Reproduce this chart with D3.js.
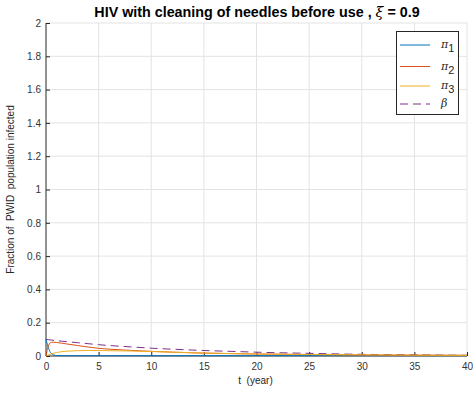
<!DOCTYPE html>
<html>
<head>
<meta charset="utf-8">
<script src="https://cdn.jsdelivr.net/npm/d3@7"></script>
<style>
  body { margin: 0; background: #fff; }
  svg { display: block; font-family: "Liberation Sans", Arial, Helvetica, sans-serif; }
  .pre { white-space: pre; }
</style>
</head>
<body>
<svg id="chart" width="473" height="394"></svg>
<script>
// Time grid (years)
const tYears = [0, 0.25, 0.5, 0.75, 1, 1.5, 2, 3, 4, 5, 6, 8, 10, 12, 15, 18, 20, 25, 30, 35, 40];

// Fractions of the PWID population infected
const pi1  = [0.100, 0.045, 0.015, 0.006, 0.003, 0.002, 0.002, 0.002, 0.002, 0.002, 0.002, 0.002, 0.002, 0.002, 0.002, 0.002, 0.002, 0.002, 0.002, 0.002, 0.002];
const pi2  = [0.000, 0.065, 0.082, 0.083, 0.081, 0.077, 0.072, 0.063, 0.054, 0.046, 0.041, 0.034, 0.028, 0.023, 0.017, 0.014, 0.012, 0.009, 0.006, 0.005, 0.004];
const pi3  = [0.000, 0.006, 0.012, 0.017, 0.021, 0.026, 0.029, 0.032, 0.033, 0.033, 0.032, 0.030, 0.027, 0.023, 0.018, 0.014, 0.012, 0.009, 0.007, 0.005, 0.004];
const beta = [0.100, 0.098, 0.096, 0.094, 0.092, 0.089, 0.086, 0.080, 0.074, 0.068, 0.063, 0.055, 0.047, 0.041, 0.033, 0.027, 0.023, 0.016, 0.010, 0.007, 0.004];

const xTicks = [0, 5, 10, 15, 20, 25, 30, 35, 40];
const yTicks = [0, 0.2, 0.4, 0.6, 0.8, 1, 1.2, 1.4, 1.6, 1.8, 2];

const series = [
  { name: "1", values: pi1,  color: "#0072BD", dash: null },
  { name: "2", values: pi2,  color: "#D95319", dash: null },
  { name: "3", values: pi3,  color: "#EDB120", dash: null },
  { name: "beta", values: beta, color: "#7E2F8E", dash: "8,5" }
];

const svg = d3.select("#chart");
const plotL = 46, plotR = 467, plotT = 23, plotB = 356;

const x = d3.scaleLinear().domain([0, 40]).range([plotL, plotR]);
const y = d3.scaleLinear().domain([0, 2]).range([plotB, plotT]);

// grid
const grid = svg.append("g");
grid.selectAll("line.gx").data(xTicks.slice(1)).join("line")
  .attr("x1", d => x(d)).attr("x2", d => x(d))
  .attr("y1", plotT).attr("y2", plotB)
  .attr("stroke", "#e3e3e3").attr("stroke-width", 1);
grid.selectAll("line.gy").data(yTicks.slice(1)).join("line")
  .attr("x1", plotL).attr("x2", plotR)
  .attr("y1", d => y(d)).attr("y2", d => y(d))
  .attr("stroke", "#e3e3e3").attr("stroke-width", 1);

// axes
const xAxis = d3.axisBottom(x).tickValues(xTicks).tickSize(-4).tickPadding(7).tickFormat(d3.format("d"));
const yAxis = d3.axisLeft(y).tickValues(yTicks).tickSize(-4).tickPadding(5).tickFormat(d => d === 0 ? "0" : d3.format("~g")(d));

const gx = svg.append("g").attr("transform", `translate(0,${plotB})`).call(xAxis);
const gy = svg.append("g").attr("transform", `translate(${plotL},0)`).call(yAxis);
[gx, gy].forEach(g => {
  g.select(".domain").attr("stroke", "#262626").attr("stroke-width", 1);
  g.selectAll(".tick line").attr("stroke", "#262626");
  g.selectAll(".tick text").attr("fill", "#333").attr("font-size", 10)
    .attr("font-family", "Liberation Sans, Arial, sans-serif");
});
gy.select(".domain").attr("d", `M0,${plotB}V${plotT}`);
gx.select(".domain").attr("d", `M${plotL},0H${plotR}`);

// lines
const line = d3.line().x((d, i) => x(tYears[i])).y(d => y(d)).curve(d3.curveMonotoneX);
const order = [series[3], series[0], series[1], series[2]];
svg.append("g").selectAll("path").data(order).join("path")
  .attr("d", s => line(s.values))
  .attr("fill", "none")
  .attr("stroke", s => s.color)
  .attr("stroke-width", 1)
  .attr("stroke-dasharray", s => s.dash);

// title
svg.append("text").attr("x", 257).attr("y", 17).attr("text-anchor", "middle")
  .attr("font-size", 14.3).attr("font-weight", "bold").attr("fill", "#000")
  .html('HIV with cleaning of needles before use , <tspan font-family="DejaVu Serif" font-style="italic" font-weight="normal">ξ</tspan> = 0.9');

// axis labels
svg.append("text").attr("class", "pre").attr("x", (plotL + plotR) / 2 - 1).attr("y", 384).attr("text-anchor", "middle")
  .attr("font-size", 10).attr("fill", "#262626").text("t  (year)");
svg.append("text").attr("class", "pre").attr("transform", `translate(14,${(plotT + plotB) / 2}) rotate(-90)`)
  .attr("text-anchor", "middle").attr("font-size", 10).attr("fill", "#262626")
  .text("Fraction of  PWID  population infected");

// legend
const lg = svg.append("g");
lg.append("rect").attr("x", 396.5).attr("y", 31.5).attr("width", 62).attr("height", 83)
  .attr("fill", "#fff").attr("stroke", "#262626").attr("stroke-width", 1);
const rowsY = [45, 66.5, 86, 104];
series.forEach((s, i) => {
  lg.append("line").attr("x1", 400).attr("x2", 430).attr("y1", rowsY[i]).attr("y2", rowsY[i])
    .attr("stroke", s.color).attr("stroke-width", 1).attr("stroke-dasharray", s.dash);
  const t = lg.append("text").attr("x", 441).attr("y", rowsY[i] + 3)
    .attr("font-family", "DejaVu Serif, serif").attr("font-size", 11).attr("fill", "#262626");
  if (s.name === "beta") {
    t.attr("font-style", "italic").text("β");
  } else {
    t.append("tspan").attr("font-style", "italic").text("π");
    t.append("tspan").attr("font-family", "Liberation Sans, Arial, sans-serif").attr("font-size", 11)
      .attr("dy", 4).text(s.name);
  }
});
</script>
</body>
</html>
